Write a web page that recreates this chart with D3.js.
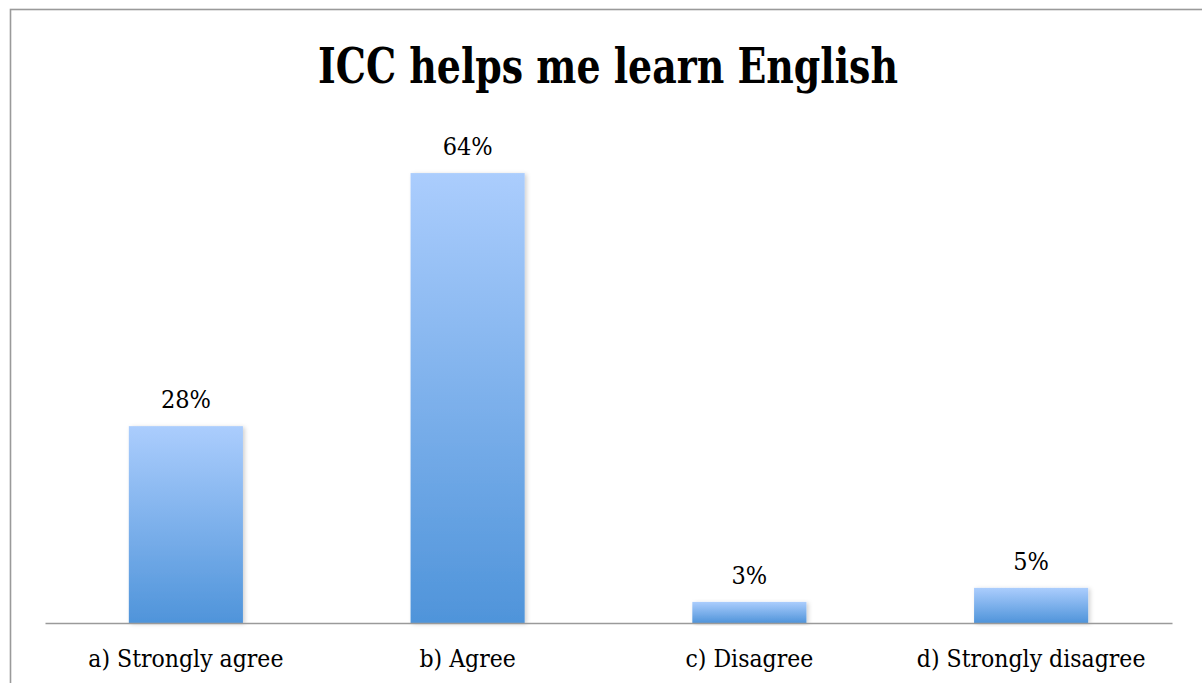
<!DOCTYPE html>
<html>
<head>
<meta charset="utf-8">
<script src="https://cdn.jsdelivr.net/npm/d3@7"></script>
<style>
  html, body { margin: 0; padding: 0; background: #fff; }
  svg { display: block; }
</style>
</head>
<body>
<svg id="chart" width="1202" height="683"></svg>
<script>
// Survey responses
const categories = ["a) Strongly agree", "b) Agree", "c) Disagree", "d) Strongly disagree"];
const values = [28, 64, 3, 5];
const valueLabels = ["28%", "64%", "3%", "5%"];
const title = "ICC helps me learn English";

const svg = d3.select("#chart");
const W = 1202, H = 683;
const serif = "'DejaVu Serif Condensed', 'DejaVu Serif', serif";

// Outer frame
svg.append("rect")
  .attr("x", 10.5).attr("y", 9.5)
  .attr("width", W + 20).attr("height", H + 20)
  .attr("fill", "#fff")
  .attr("stroke", "#9a9a9a").attr("stroke-width", 1.6);

const defs = svg.append("defs");
const grad = defs.append("linearGradient")
  .attr("id", "barFill").attr("x1", 0).attr("y1", 0).attr("x2", 0).attr("y2", 1);
grad.append("stop").attr("offset", "0%").attr("stop-color", "#abcdfd");
grad.append("stop").attr("offset", "100%").attr("stop-color", "#4f94da");

const shadow = defs.append("filter").attr("id", "barShadow")
  .attr("x", "-10%").attr("y", "-10%").attr("width", "130%").attr("height", "120%");
shadow.append("feDropShadow")
  .attr("dx", 2).attr("dy", 1).attr("stdDeviation", 2)
  .attr("flood-color", "#000").attr("flood-opacity", 0.18);

const x0 = 45, x1 = 1172, baseY = 623;
const x = d3.scaleBand().domain(categories).range([x0, x1]).padding(0);
const y = d3.scaleLinear().domain([0, 70]).range([baseY, baseY - 70 * 7.03]);
const barW = x.bandwidth() * 0.405;

// Title
svg.append("text")
  .attr("x", 608).attr("y", 83)
  .attr("text-anchor", "middle")
  .attr("font-family", serif)
  .attr("font-weight", "bold")
  .attr("font-size", 48)
  .attr("textLength", 580)
  .attr("lengthAdjust", "spacingAndGlyphs")
  .attr("fill", "#000")
  .text(title);

// Bars
svg.append("g").selectAll("rect")
  .data(values)
  .join("rect")
  .attr("x", (d, i) => x(categories[i]) + (x.bandwidth() - barW) / 2)
  .attr("y", d => y(d))
  .attr("width", barW)
  .attr("height", d => baseY - y(d))
  .attr("fill", "url(#barFill)")
  .attr("filter", "url(#barShadow)");

// Value labels
svg.append("g").selectAll("text")
  .data(values)
  .join("text")
  .attr("x", (d, i) => x(categories[i]) + x.bandwidth() / 2)
  .attr("y", d => y(d) - 18)
  .attr("text-anchor", "middle")
  .attr("font-family", serif)
  .attr("font-size", 25)
  .attr("fill", "#000")
  .text((d, i) => valueLabels[i]);

// Category axis
const axis = svg.append("g")
  .attr("transform", `translate(0,${baseY})`)
  .call(d3.axisBottom(x).tickSize(0).tickPadding(0));
axis.select(".domain").attr("stroke", "#9a9a9a").attr("stroke-width", 1.6);
axis.selectAll(".tick text")
  .attr("y", 44)
  .attr("dy", 0)
  .attr("font-family", serif)
  .attr("font-size", 24.5)
  .attr("fill", "#000");
</script>
</body>
</html>
